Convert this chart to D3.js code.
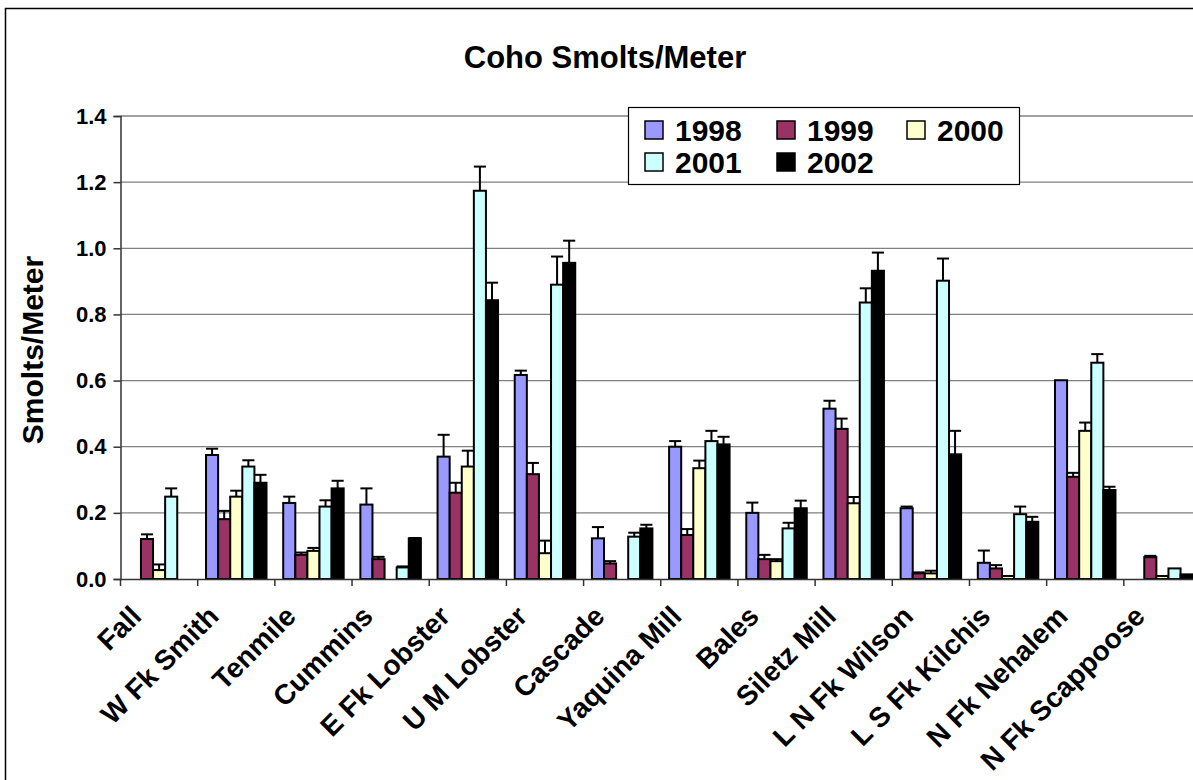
<!DOCTYPE html>
<html>
<head>
<meta charset="utf-8">
<script src="https://cdn.jsdelivr.net/npm/d3@7"></script>
<style>
  html, body { margin: 0; padding: 0; background: #fff; }
  svg { display: block; font-family: Arial, "Liberation Sans", sans-serif; }
</style>
</head>
<body>
<svg id="chart" width="1193" height="780"></svg>
<script>
// ---- data ----
const categories = ["Fall", "W Fk Smith", "Tenmile", "Cummins", "E Fk Lobster", "U M Lobster",
  "Cascade", "Yaquina Mill", "Bales", "Siletz Mill", "L N Fk Wilson", "L S Fk Kilchis",
  "N Fk Nehalem", "N Fk Scappoose"];
const years = ["1998", "1999", "2000", "2001", "2002"];
const colors = ["#9999FF", "#993366", "#FFFFCC", "#CCFFFF", "#000000"];

const v1998 = [0, 0.375, 0.230, 0.225, 0.370, 0.617, 0.123, 0.400, 0.200, 0.515, 0.214, 0.049, 0.601, 0];
const v1999 = [0.121, 0.181, 0.073, 0.060, 0.261, 0.317, 0.047, 0.133, 0.060, 0.454, 0.017, 0.032, 0.309, 0.066];
const v2000 = [0.027, 0.249, 0.085, 0, 0.340, 0.078, 0, 0.335, 0.054, 0.229, 0.017, 0.009, 0.448, 0.009];
const v2001 = [0.249, 0.340, 0.219, 0.035, 1.174, 0.890, 0.128, 0.417, 0.153, 0.836, 0.902, 0.196, 0.654, 0.032];
const v2002 = [0, 0.291, 0.274, 0.123, 0.843, 0.956, 0.153, 0.407, 0.214, 0.932, 0.377, 0.173, 0.269, 0.014];

const e1998 = [0, 0.019, 0.019, 0.049, 0.066, 0.013, 0.034, 0.017, 0.031, 0.024, 0.005, 0.037, 0, 0];
const e1999 = [0.014, 0.025, 0.007, 0.007, 0.030, 0.034, 0.007, 0.018, 0.013, 0.031, 0.003, 0.010, 0.012, 0.004];
const e2000 = [0.017, 0.018, 0.009, 0, 0.048, 0.038, 0, 0.023, 0.006, 0.019, 0.008, 0, 0.025, 0];
const e2001 = [0.025, 0.019, 0.019, 0.003, 0.073, 0.085, 0.012, 0.031, 0.017, 0.043, 0.067, 0.023, 0.026, 0];
const e2002 = [0, 0.024, 0.023, 0.001, 0.053, 0.067, 0.011, 0.023, 0.023, 0.055, 0.071, 0.015, 0.010, 0];

const yTicks = [0, 0.2, 0.4, 0.6, 0.8, 1.0, 1.2, 1.4];
const titleText = "Coho Smolts/Meter";
const yTitleText = "Smolts/Meter";

const values = [v1998, v1999, v2000, v2001, v2002];
const errors = [e1998, e1999, e2000, e2001, e2002];

// ---- layout ----
const svg = d3.select("#chart");
const plot = { left: 120.5, right: 1201, top: 116, bottom: 579 };
const FONT = "Arial, 'Liberation Sans', sans-serif";

// outer frame
svg.append("rect").attr("x", 5.5).attr("y", 8.5).attr("width", 1400).attr("height", 900)
  .attr("fill", "#fff").attr("stroke", "#000").attr("stroke-width", 1.5);

const x0 = d3.scaleBand().domain(categories).range([plot.left, plot.right]).paddingInner(0).paddingOuter(0);
const x1 = d3.scaleBand().domain(years).range([0, x0.bandwidth()]).paddingInner(0).paddingOuter(0.69);
const y = d3.scaleLinear().domain([0, 1.4]).range([plot.bottom, plot.top]);

// gridlines
svg.append("g").selectAll("line").data(yTicks.filter(d => d > 0)).join("line")
  .attr("x1", plot.left).attr("x2", plot.right)
  .attr("y1", d => y(d)).attr("y2", d => y(d))
  .attr("stroke", "#808080").attr("stroke-width", 1.3);

// y axis
const yAxis = d3.axisLeft(y).tickValues(yTicks).tickFormat(d3.format(".1f")).tickSize(7).tickPadding(7);
const gy = svg.append("g").attr("transform", `translate(${plot.left},0)`).call(yAxis);
gy.select(".domain").attr("stroke", "#333").attr("stroke-width", 1.5);
gy.selectAll(".tick line").attr("stroke", "#333").attr("stroke-width", 1.5);
gy.selectAll(".tick text").attr("font-size", 22).attr("font-weight", "bold").attr("fill", "#000")
  .attr("font-family", FONT);

// bars
const flat = [];
categories.forEach((c, i) => years.forEach((yr, j) => {
  flat.push({ cat: c, year: yr, j, v: values[j][i], e: errors[j][i] });
}));

const gBars = svg.append("g");
gBars.selectAll("rect").data(flat.filter(d => d.v > 0)).join("rect")
  .attr("x", d => x0(d.cat) + x1(d.year))
  .attr("y", d => y(d.v))
  .attr("width", x1.bandwidth())
  .attr("height", d => y(0) - y(d.v))
  .attr("fill", d => colors[d.j])
  .attr("stroke", "#000").attr("stroke-width", 2);

// error bars
const gErr = svg.append("g").attr("stroke", "#000").attr("stroke-width", 2);
const withErr = flat.filter(d => d.v > 0 && d.e > 0);
gErr.selectAll("line.v").data(withErr).join("line").attr("class", "v")
  .attr("x1", d => x0(d.cat) + x1(d.year) + x1.bandwidth() / 2)
  .attr("x2", d => x0(d.cat) + x1(d.year) + x1.bandwidth() / 2)
  .attr("y1", d => y(d.v)).attr("y2", d => y(d.v + d.e));
gErr.selectAll("line.c").data(withErr).join("line").attr("class", "c")
  .attr("x1", d => x0(d.cat) + x1(d.year))
  .attr("x2", d => x0(d.cat) + x1(d.year) + x1.bandwidth())
  .attr("y1", d => y(d.v + d.e)).attr("y2", d => y(d.v + d.e));

// x axis line and category ticks
const xAxis = d3.axisBottom(x0).tickSize(0).tickFormat("");
const gx = svg.append("g").attr("transform", `translate(0,${plot.bottom})`).call(xAxis);
gx.select(".domain").attr("stroke", "#333").attr("stroke-width", 1.5);
gx.selectAll(".tick").remove();
gx.selectAll("line.sep").data(categories.concat(["_end"])).join("line").attr("class", "sep")
  .attr("x1", (d, i) => plot.left + i * x0.step()).attr("x2", (d, i) => plot.left + i * x0.step())
  .attr("y1", 0).attr("y2", 7).attr("stroke", "#333").attr("stroke-width", 1.5);

// x labels (rotated)
svg.append("g").selectAll("text").data(categories).join("text")
  .attr("transform", d => `translate(${x0(d) + x0.bandwidth() / 2 - 16},618) rotate(-45)`)
  .attr("text-anchor", "end")
  .attr("font-size", 28).attr("font-weight", "bold").attr("fill", "#000")
  .text(d => d);

// title
svg.append("text").attr("x", 605).attr("y", 68).attr("text-anchor", "middle")
  .attr("font-size", 31).attr("font-weight", "bold").text(titleText);

// y title
svg.append("text").attr("transform", "translate(43,350) rotate(-90)").attr("text-anchor", "middle")
  .attr("font-size", 30).attr("font-weight", "bold").text(yTitleText);

// legend
const lg = svg.append("g");
lg.append("rect").attr("x", 628.5).attr("y", 107.5).attr("width", 391).attr("height", 77)
  .attr("fill", "#fff").attr("stroke", "#000").attr("stroke-width", 1.2);
const legPos = [[645, 121], [777, 121], [907, 121], [645, 153], [777, 153]];
const li = lg.selectAll("g.item").data(years).join("g").attr("class", "item")
  .attr("transform", (d, i) => `translate(${legPos[i][0]},${legPos[i][1]})`);
li.append("rect").attr("width", 18).attr("height", 18)
  .attr("fill", (d, i) => colors[i]).attr("stroke", "#000").attr("stroke-width", 1.5);
li.append("text").attr("x", 30).attr("y", 20).attr("font-size", 30).attr("font-weight", "bold").text(d => d);
</script>
</body>
</html>
